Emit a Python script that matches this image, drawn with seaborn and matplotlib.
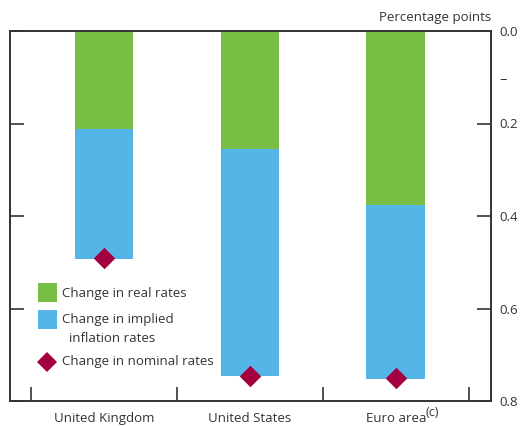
import matplotlib
matplotlib.use("Agg")
import matplotlib.pyplot as plt
import seaborn as sns
import pandas as pd
from matplotlib.patches import Rectangle
from matplotlib.lines import Line2D

categories = ["United Kingdom", "United States", "Euro area"]
real_rates = [0.212, 0.255, 0.376]
inflation_rates = [0.280, 0.492, 0.376]
nominal_rates = [0.490, 0.746, 0.750]

GREEN = "#78BE44"
BLUE = "#56B5E7"
RED = "#A4003F"
DARK = "#333333"
FS = 9.5

sns.set_theme(style="white")
plt.rcParams["font.family"] = ["Open Sans", "DejaVu Sans"]

df = pd.DataFrame({
    "cat": categories,
    "real": real_rates,
    "infl": inflation_rates,
    "nominal": nominal_rates,
})
df["total"] = df["real"] + df["infl"]

W, H = 520, 426
fig = plt.figure(figsize=(W / 100, H / 100), dpi=100)
ax = fig.add_axes([10 / W, 1 - 401 / H, 481 / W, 370 / H])

sns.barplot(data=df, x="cat", y="total", color=BLUE, width=0.404,
            saturation=1, linewidth=0, edgecolor="none", ax=ax, order=categories)
sns.barplot(data=df, x="cat", y="real", color=GREEN, width=0.404,
            saturation=1, linewidth=0, edgecolor="none", ax=ax, order=categories)
sns.scatterplot(data=df, x="cat", y="nominal", marker="D", color=RED,
                s=120, linewidth=0, ax=ax, zorder=5)

ax.set_xlim(-0.644, 2.651)
ax.set_ylim(0.8, 0.0)

for s in ["left", "right", "top", "bottom"]:
    ax.spines[s].set_visible(True)
    ax.spines[s].set_color(DARK)
    ax.spines[s].set_linewidth(1.4)

ax.yaxis.tick_right()
ax.set_yticks([0.0, 0.2, 0.4, 0.6, 0.8])
ax.set_yticklabels(["0.0", "0.2", "0.4", "0.6", "0.8"])
ax.set_yticks([0.1], minor=True)
ax.set_yticklabels(["–"], minor=True)
ax.tick_params(axis="y", which="major", direction="in", length=10, width=1.2,
               color=DARK, labelsize=FS, labelcolor=DARK, pad=6,
               left=True, right=True, labelleft=False, labelright=True)
ax.tick_params(axis="y", which="minor", length=0, labelsize=FS + 1,
               labelcolor=DARK, pad=6, right=True, labelright=True)

ax.set_xticks([0, 1, 2])
ax.set_xticklabels(categories)
ax.set_xticks([-0.5, 0.5, 1.5, 2.5], minor=True)
ax.tick_params(axis="x", which="major", length=0, labelsize=FS,
               labelcolor=DARK, pad=8)
ax.tick_params(axis="x", which="minor", direction="in", length=10,
               width=1.2, color=DARK, bottom=True)
ax.set_xlabel("")
ax.set_ylabel("")

tf = fig.transFigure
def fx(x):
    return x / W
def fy(y):
    return 1 - y / H

fig.text(fx(426), fy(412), "(c)", ha="left", va="center", fontsize=FS - 0.5,
         color=DARK)

fig.text(fx(491), fy(18), "Percentage points", ha="right", va="center",
         fontsize=FS, color=DARK)

# legend
fig.add_artist(Rectangle((fx(38), fy(302)), 19 / W, 19 / H, transform=tf,
                         facecolor=GREEN, edgecolor="none"))
fig.add_artist(Rectangle((fx(38), fy(329)), 19 / W, 19 / H, transform=tf,
                         facecolor=BLUE, edgecolor="none"))
fig.add_artist(Line2D([fx(47)], [fy(362)], transform=tf, marker="D",
                      color=RED, linestyle="none", markersize=10,
                      markeredgewidth=0))
for x, y, t in [(62, 293, "Change in real rates"),
                (62, 320, "Change in implied"),
                (69, 339, "inflation rates"),
                (62, 362, "Change in nominal rates")]:
    fig.text(fx(x), fy(y), t, ha="left", va="center", fontsize=FS, color=DARK)

fig.savefig("out.png", dpi=100)
